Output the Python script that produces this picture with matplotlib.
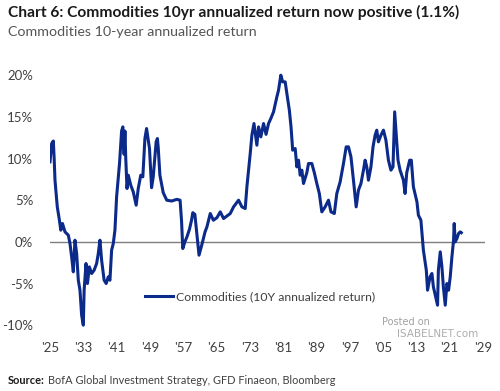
import matplotlib
matplotlib.use("Agg")
import matplotlib.pyplot as plt

# 10y annualized return (%)
years = [
    1925.0, 1925.4, 1925.8, 1926.0, 1926.2, 1926.75, 1927.2, 1927.6, 1928.0, 1928.6,
    1929.4, 1929.8, 1930.2, 1930.6, 1931.0, 1931.4, 1931.8, 1932.2, 1932.6, 1933.0,
    1933.2, 1933.65, 1934.0, 1934.45, 1935.0, 1935.6, 1936.2, 1936.6, 1937.0, 1937.4,
    1938.0, 1938.5, 1939.0, 1939.4, 1939.8, 1940.2, 1940.6, 1941.0, 1941.7, 1942.2,
    1942.5, 1942.8, 1943.0, 1943.2, 1943.5, 1943.8, 1944.4, 1945.0, 1945.7, 1946.2,
    1946.8, 1947.3, 1947.8, 1948.2, 1948.9, 1949.4, 1949.8, 1950.5, 1950.8, 1951.0,
    1951.4, 1952.2, 1953.05, 1954.25, 1955.45, 1956.25, 1956.6, 1956.9, 1957.4, 1957.9,
    1958.5, 1959.0, 1959.3, 1959.8, 1960.25, 1960.8, 1961.5, 1962.25, 1962.7, 1963.5,
    1964.25, 1965.1, 1965.9, 1966.7, 1968.3, 1969.1, 1970.3, 1971.1, 1971.9, 1972.3,
    1973.1, 1973.5, 1974.0, 1974.7, 1975.1, 1975.65, 1976.3, 1976.9, 1977.5, 1978.05,
    1978.7, 1979.5, 1979.9, 1980.45, 1980.9, 1981.5, 1981.9, 1982.5, 1982.9, 1983.3,
    1983.9, 1984.3, 1984.7, 1985.1, 1985.5, 1985.9, 1986.7, 1987.1, 1987.9, 1988.5,
    1989.1, 1989.7, 1990.3, 1991.1, 1991.9, 1992.5, 1993.3, 1993.9, 1994.7, 1995.5,
    1996.15, 1996.7, 1997.3, 1997.9, 1998.55, 1999.1, 1999.7, 2000.3, 2000.7, 2001.1,
    2001.5, 2002.1, 2002.6, 2003.1, 2003.5, 2003.9, 2004.5, 2005.1, 2005.7, 2006.3,
    2006.9, 2007.4, 2007.8, 2008.2, 2008.6, 2009.1, 2009.9, 2010.3, 2010.7, 2011.4,
    2011.8, 2012.3, 2013.15, 2013.5, 2014.1, 2014.7, 2015.4, 2015.7, 2016.3, 2016.75,
    2017.1, 2017.55, 2018.1, 2018.3, 2018.75, 2019.15, 2019.5, 2019.95, 2020.35, 2020.75,
    2021.15, 2021.55, 2021.95, 2022.1, 2022.35, 2022.75, 2023.15, 2023.55, 2023.8,
]
returns = [
    9.6, 11.8, 12.1, 10.0, 7.4, 4.2, 2.8, 1.4, 2.2, 1.2,
    0.8, -0.2, -1.8, -3.6, 0.2, -1.4, -4.6, -5.8, -8.8, -10.0,
    -5.8, -2.6, -5.0, -3.0, -3.8, -3.4, -2.6, -1.4, 0.2, -2.2,
    -4.6, -5.0, -4.2, -4.6, -1.0, -0.2, 1.4, 5.4, 9.4, 13.3,
    13.8, 10.5, 13.3, 10.0, 6.4, 8.0, 6.8, 6.0, 4.4, 6.4,
    8.0, 7.8, 12.4, 13.6, 11.2, 6.5, 7.8, 12.0, 12.4, 11.3,
    8.0, 5.9, 5.0, 4.9, 5.1, 5.0, 2.5, -0.8, 0.0, 0.6,
    1.5, 2.6, 3.5, 3.3, 1.1, -1.6, -0.3, 1.2, 1.8, 3.4,
    2.6, 2.9, 3.6, 2.8, 3.4, 4.2, 5.0, 4.2, 4.0, 6.6,
    10.6, 12.8, 14.2, 11.6, 13.8, 12.6, 14.2, 12.9, 14.2, 14.8,
    15.6, 17.4, 18.2, 20.0, 19.2, 19.2, 17.8, 15.8, 13.8, 11.0,
    11.2, 9.0, 9.8, 8.0, 8.6, 7.0, 8.3, 9.4, 9.4, 8.3,
    7.0, 5.8, 3.6, 4.2, 5.0, 3.6, 3.4, 5.8, 7.2, 9.4,
    11.4, 11.4, 10.2, 7.4, 4.2, 6.2, 7.0, 8.6, 9.8, 9.0,
    7.4, 9.0, 11.4, 12.8, 13.4, 12.0, 12.8, 13.4, 12.2, 9.8,
    8.6, 9.0, 15.6, 12.6, 9.8, 8.6, 7.4, 5.8, 8.3, 9.8,
    9.8, 6.6, 4.8, 3.2, 2.6, -1.0, -3.4, -5.8, -4.2, -3.8,
    -5.4, -6.4, -7.6, -3.4, -1.2, -3.0, -5.4, -7.6, -5.0, -5.8,
    -4.2, -1.8, 0.2, 2.2, 0.0, 0.4, 1.0, 1.2, 1.1,
]

x_ticks = [1925, 1933, 1941, 1949, 1957, 1965, 1973, 1981, 1989, 1997, 2005, 2013, 2021, 2029]
x_labels = ["'25", "'33", "'41", "'49", "'57", "'65", "'73", "'81", "'89", "'97", "'05", "'13", "'21", "'29"]
y_ticks = [-10, -5, 0, 5, 10, 15, 20]
y_labels = ["-10%", "-5%", "0%", "5%", "10%", "15%", "20%"]

NAVY = "#0b2a8a"
GREY_TXT = "#404040"

plt.rcParams["font.family"] = ["Lato", "DejaVu Sans"]

W, H = 500, 391
fig = plt.figure(figsize=(W / 100, H / 100), dpi=100)
ax = fig.add_axes([0.1, 0.147, 0.87, 0.682])

ax.plot(years, returns, color=NAVY, lw=2.2, label="Commodities (10Y annualized return)")
ax.axhline(0, color="#7f7f7f", lw=1.0, zorder=1)

ax.set_xlim(1925, 2029.5)
ax.set_ylim(-11, 21)
ax.set_xticks(x_ticks)
ax.set_xticklabels(x_labels)
ax.set_yticks(y_ticks)
ax.set_yticklabels(y_labels)
ax.tick_params(length=0, labelsize=9.5, colors=GREY_TXT)
ax.tick_params(axis="y", pad=12)
ax.tick_params(axis="x", pad=6)
for s in ax.spines.values():
    s.set_visible(False)

fig.legend(loc="center left", bbox_to_anchor=(145 / W, 1 - 297 / H),
           frameon=False, fontsize=8.8, handlelength=2.3, handletextpad=0.25,
           borderpad=0, borderaxespad=0, labelcolor=GREY_TXT)


def fit_text(x, y, s, width_px, size, **kw):
    # place text, then rescale its size so it spans about width_px
    t = fig.text(x / W, 1 - y / H, s, fontsize=size, va="center", ha="left", **kw)
    fig.canvas.draw()
    w = t.get_window_extent().width
    t.set_fontsize(size * width_px / w)
    return t


fit_text(8, 12, "Chart 6: Commodities 10yr annualized return now positive (1.1%)", 447, 12,
         fontweight="bold", color="#1a1a1a")
fit_text(8, 32, "Commodities 10-year annualized return", 250, 10.5, color="#555555")

SRC_SIZE = 7.9
src = fig.text(8 / W, 1 - 381 / H, "Source:", fontsize=SRC_SIZE, fontweight="bold",
               color="#1a1a1a", va="center", ha="left")
fig.canvas.draw()
bb = src.get_window_extent()
fig.text((bb.x1 + 3) / W, 1 - 381 / H,
         "BofA Global Investment Strategy, GFD Finaeon, Bloomberg",
         fontsize=SRC_SIZE, color="#404040", va="center", ha="left")

# watermark
fig.text(406 / W, 1 - 322 / H, "Posted on", fontsize=7, color="#8a8a8a",
         ha="center", va="center", family="DejaVu Sans", alpha=0.8)
fig.text(438 / W, 1 - 334 / H, "ISABELNET.com", fontsize=7.5, color="#8a8a8a",
         ha="center", va="center", family="DejaVu Sans", alpha=0.7)

fig.savefig("out.png", dpi=100)
